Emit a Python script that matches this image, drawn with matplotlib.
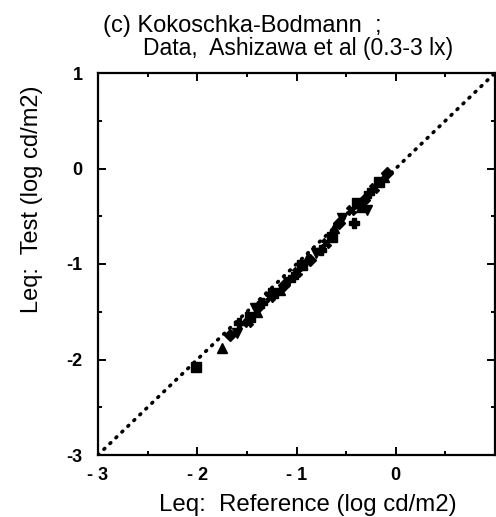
import matplotlib
matplotlib.use("Agg")
import matplotlib.pyplot as plt
from matplotlib.ticker import MultipleLocator, FixedLocator

plt.rcParams['font.family'] = ['Liberation Sans', 'DejaVu Sans']

# data (log cd/m2)
ref_x = [-2.015, -1.754, -1.673, -1.603, -1.583, -1.492, -1.472, -1.402, -1.392,
         -1.422, -1.352, -1.271, -1.241, -1.171, -1.121, -1.090, -1.040, -0.990,
         -0.940, -0.889, -0.869, -0.799, -0.749, -0.698, -0.638, -0.618, -0.568,
         -0.538, -0.417, -0.447, -0.387, -0.347, -0.317, -0.286, -0.266, -0.216,
         -0.166, -0.116, -0.085]
test_y = [-2.079, -1.880, -1.743, -1.723, -1.618, -1.607, -1.555, -1.503, -1.450,
          -1.461, -1.408, -1.346, -1.304, -1.272, -1.220, -1.188, -1.136, -1.084,
          -1.010, -0.927, -0.958, -0.885, -0.853, -0.780, -0.717, -0.623, -0.571,
          -0.518, -0.571, -0.435, -0.361, -0.403, -0.330, -0.435, -0.257, -0.204,
          -0.141, -0.089, -0.047]
markers = ['s', '^', 'D', 'v', 'P', 'X']

line_ends = [-3, 1]
x_ticks = [-3, -2, -1, 0]
x_ticklabels = ['- 3', '- 2', '- 1', '0']
y_ticks = [-3, -2, -1, 0, 1]
y_ticklabels = ['-3', '-2', '-1', '0', '1']

W, H = 496, 517
fig = plt.figure(figsize=(W / 100, H / 100), dpi=100)
ax = fig.add_axes([98 / W, (H - 455) / H, (495 - 98) / W, (455 - 73) / H])
ax.set_xlim(-3, 1)
ax.set_ylim(-3, 1)

ax.plot(line_ends, line_ends, color='black', lw=2.6, linestyle=(0, (0.3, 2.0)),
        dash_capstyle='round', zorder=2)
for i, (xv, yv) in enumerate(zip(ref_x, test_y)):
    ax.plot([xv], [yv], marker=markers[i % len(markers)], color='black',
            markersize=6.5, linestyle='none', zorder=3)

for s in ax.spines.values():
    s.set_linewidth(1.6)
ax.xaxis.set_major_locator(FixedLocator(x_ticks + [1]))
ax.yaxis.set_major_locator(FixedLocator(y_ticks))
ax.xaxis.set_minor_locator(MultipleLocator(0.5))
ax.yaxis.set_minor_locator(MultipleLocator(0.5))
ax.set_xticklabels(x_ticklabels + [''])
ax.set_yticklabels(y_ticklabels)
ax.tick_params(which='both', direction='in', top=True, right=True, width=1.4)
ax.tick_params(which='major', length=5.5)
ax.tick_params(which='minor', length=3)
ax.tick_params(axis='x', pad=9, labelsize=13)
ax.tick_params(axis='y', pad=11, labelsize=13)
for lab in ax.get_xticklabels() + ax.get_yticklabels():
    lab.set_fontweight('bold')

fig.text(308 / W, 1 - 505 / H, 'Leq:  Reference (log cd/m2)', ha='center', va='center',
         fontsize=17.3)
fig.text(32 / W, 1 - 199 / H, 'Leq:  Test (log cd/m2)', ha='center', va='center',
         rotation=90, fontsize=17)
fig.text(103 / W, 1 - 32 / H, '(c) Kokoschka-Bodmann  ;', ha='left', va='baseline',
         fontsize=17)
fig.text(143 / W, 1 - 55 / H, 'Data,  Ashizawa et al (0.3-3 lx)', ha='left',
         va='baseline', fontsize=16.5)

fig.savefig('out.png', dpi=100)
